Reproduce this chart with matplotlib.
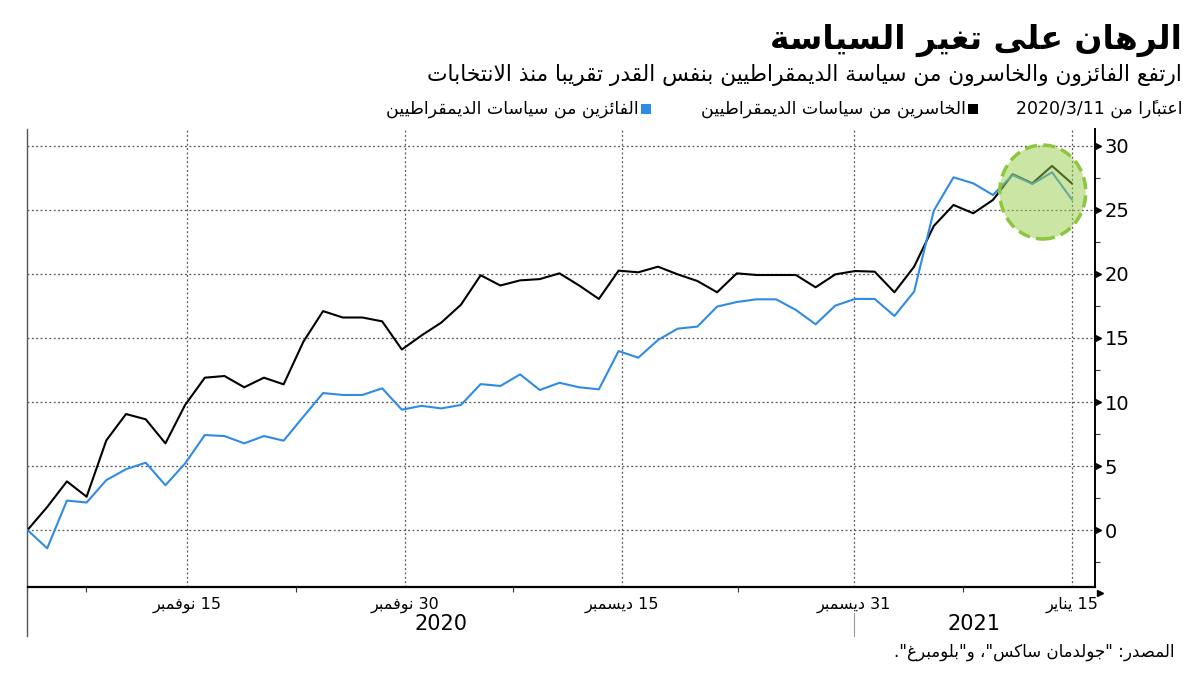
import re
import numpy as np
import pandas as pd
import matplotlib
matplotlib.use("Agg")
import matplotlib.pyplot as plt
import matplotlib.dates as mdates
import matplotlib.transforms as mtrans
from matplotlib.patches import Ellipse, Rectangle

plt.rcParams["font.family"] = ["DejaVu Sans"]

# ---- data (% change since 2020/3/11) ----
losers = [0.0, 1.8, 3.8, 2.6, 7.0, 9.06, 8.65, 6.77, 9.77, 11.9,
          12.03, 11.15, 11.9, 11.38, 14.7, 17.1, 16.6, 16.6, 16.3, 14.1,
          15.2, 16.2, 17.6, 19.9, 19.1, 19.5, 19.6, 20.05, 19.1, 18.05,
          20.26, 20.13, 20.57, 19.97, 19.45, 18.57, 20.05, 19.92, 19.92, 19.92,
          18.96, 19.97, 20.23, 20.18, 18.57, 20.57, 23.75, 25.39, 24.74, 25.78,
          27.79, 27.08, 28.44, 27.08]
winners = [0.0, -1.43, 2.3, 2.15, 3.9, 4.75, 5.26, 3.5, 5.2, 7.42,
           7.34, 6.77, 7.34, 6.98, 8.85, 10.7, 10.55, 10.55, 11.07, 9.4,
           9.7, 9.5, 9.77, 11.4, 11.25, 12.16, 10.94, 11.5, 11.15, 10.99,
           13.98, 13.46, 14.84, 15.73, 15.89, 17.45, 17.81, 18.02, 18.02, 17.19,
           16.07, 17.53, 18.05, 18.05, 16.72, 18.62, 24.95, 27.55, 27.08, 26.17,
           27.73, 27.03, 27.94, 25.83]
dates = pd.date_range("2020-11-04", "2021-01-15", periods=len(losers))

tick_dates = pd.to_datetime(["2020-11-15", "2020-11-30", "2020-12-15",
                             "2020-12-31", "2021-01-15"])
tick_labels = ["15 نوفمبر", "30 نوفمبر", "15 ديسمبر", "31 ديسمبر", "15 يناير"]
minor_dates = pd.to_datetime(["2020-11-08 00:00", "2020-11-22 12:00", "2020-12-07 12:00",
                              "2020-12-23 00:00", "2021-01-07 12:00"])

TITLE = "الرهان على تغير السياسة"
SUBTITLE = "ارتفع الفائزون والخاسرون من سياسة الديمقراطيين بنفس القدر تقريبا منذ الانتخابات"
BASE = "اعتبارًا من 2020/3/11"
LAB_LOSERS = "الخاسرين من سياسات الديمقراطيين"
LAB_WINNERS = "الفائزين من سياسات الديمقراطيين"
SOURCE = 'المصدر: "جولدمان ساكس"، و"بلومبرغ".'

BLUE = "#2E8BE6"
BLACK = "#000000"

# ---- minimal arabic shaping + rtl ordering (matplotlib does neither) ----
_LETTERS = "ءآأؤإئابةتثجحخدذرزسشصضطظعغفقكلمنهوىي"
_NFORMS = [1, 2, 2, 2, 2, 4, 2, 4, 2, 4, 4, 4, 4, 4, 2, 2, 2, 2,
           4, 4, 4, 4, 4, 4, 4, 4, 4, 4, 4, 4, 4, 4, 4, 2, 2, 4]
FORMS = {}
_c = 0xFE80
for _ch, _n in zip(_LETTERS, _NFORMS):
    FORMS[_ch] = [chr(_c + i) for i in range(_n)]
    _c += _n
LAM_ALEF = {"آ": ("\uFEF5", "\uFEF6"), "أ": ("\uFEF7", "\uFEF8"),
            "إ": ("\uFEF9", "\uFEFA"), "ا": ("\uFEFB", "\uFEFC")}


def _mark(ch):
    return "\u064B" <= ch <= "\u0652" or ch == "\u0670"


def shape(s):
    n = len(s)
    out = []

    def prev_joins(k):
        j = k - 1
        while j >= 0 and _mark(s[j]):
            j -= 1
        return j >= 0 and s[j] in FORMS and len(FORMS[s[j]]) == 4

    def next_letter(k):
        j = k + 1
        while j < n and _mark(s[j]):
            j += 1
        return j if j < n and s[j] in FORMS and len(FORMS[s[j]]) > 1 else None

    i = 0
    while i < n:
        ch = s[i]
        if ch not in FORMS:
            out.append(ch)
            i += 1
            continue
        p = prev_joins(i)
        j = next_letter(i)
        if ch == "ل" and j is not None and s[j] in LAM_ALEF:
            out.append(LAM_ALEF[s[j]][1 if p else 0])
            out.extend(s[i + 1:j])
            i = j + 1
            continue
        f = FORMS[ch]
        nx = j is not None and len(f) == 4
        if p and nx:
            out.append(f[3])
        elif p:
            out.append(f[1])
        elif nx:
            out.append(f[2])
        else:
            out.append(f[0])
        i += 1
    return "".join(out)


def _rev(s):
    cl = []
    for ch in s:
        if _mark(ch) and cl:
            cl[-1] += ch
        else:
            cl.append(ch)
    return "".join(reversed(cl))


def ar(s):
    runs = re.split(r"([0-9A-Za-z]+(?:[/.:,][0-9]+)*)", shape(s))
    runs = [_rev(r) if k % 2 == 0 else r for k, r in enumerate(runs)]
    return "".join(reversed(runs))


# ---- figure ----
W, H = 1200, 675
fig = plt.figure(figsize=(12, 6.75), dpi=100)


def P(x, y):
    return x / W, 1 - y / H


L, R, T, B = 27.5, 1094.5, 129.3, 586.5
ax = fig.add_axes([L / W, 1 - B / H, (R - L) / W, (B - T) / H])

ax.plot(dates, losers, color=BLACK, lw=1.5, zorder=3)
ax.plot(dates, winners, color=BLUE, lw=1.5, zorder=3)

ax.set_xlim(pd.Timestamp("2020-11-04"), pd.Timestamp("2021-01-16 13:40"))
ax.set_ylim(-4.41, 31.3)

# highlight
cx = mdates.date2num(pd.Timestamp("2021-01-13"))
ax.add_patch(Ellipse((cx, 26.4), width=5.93, height=7.34,
                     facecolor=(0.60, 0.80, 0.29, 0.5), edgecolor="#8DC63F",
                     lw=2.5, ls=(0, (3.5, 1.8)), zorder=4))

for s in ["top", "left"]:
    ax.spines[s].set_visible(False)
ax.spines["bottom"].set_linewidth(1.6)
ax.spines["right"].set_linewidth(1.4)

ax.yaxis.tick_right()
ax.set_yticks(range(0, 31, 5))
ax.set_yticks(np.arange(-2.5, 30, 5), minor=True)
ax.tick_params(axis="y", which="major", length=0, pad=7.5, labelsize=14)
ax.tick_params(axis="y", which="minor", right=True, length=3.5, width=0.8, color="#333333")
ax.plot([1.0035] * 7, range(0, 31, 5), ls="none", marker=">", ms=4.5, color="black",
        transform=ax.get_yaxis_transform(), clip_on=False)

ax.set_xticks(tick_dates)
ax.set_xticklabels([ar(t) for t in tick_labels])
ax.set_xticks(minor_dates, minor=True)
ax.tick_params(axis="x", which="major", length=0, pad=7, labelsize=11.5)
ax.tick_params(axis="x", which="minor", length=3.5, width=0.8, color="#333333")

ax.grid(axis="y", which="major", ls=(0, (1.5, 2)), color="#555555", lw=0.9)
ax.grid(axis="x", which="major", ls=(0, (1.5, 2)), color="#555555", lw=0.9)

# left rule running down past the axis, year separator and arrow
ax.plot([0, 0], [1, -0.108], transform=ax.transAxes, clip_on=False, color="#555555", lw=1)
bt = mtrans.blended_transform_factory(ax.transData, ax.transAxes)
ax.plot([tick_dates[3]] * 2, [-0.058, -0.108], transform=bt, clip_on=False,
        color="#999999", lw=0.8)
ax.plot([1.0052], [-0.0136], transform=ax.transAxes, marker=">", ms=4.5,
        color="black", clip_on=False)

fig.text(*P(441, 624), "2020", fontsize=15, ha="center", va="center")
fig.text(*P(974, 624), "2021", fontsize=15, ha="center", va="center")

# header
rend = fig.canvas.get_renderer()


def fit(t, width):
    w = t.get_window_extent(rend).width
    t.set_fontsize(t.get_fontsize() * width / w)


t1 = fig.text(*P(1182, 40), ar(TITLE), fontsize=24, fontweight="bold", ha="right", va="center")
fit(t1, 412)
t2 = fig.text(*P(1182, 75), ar(SUBTITLE), fontsize=14, ha="right", va="center")
fit(t2, 767)

fig.text(*P(1182, 109), ar(BASE), fontsize=12.5, ha="right", va="center")
for xr, col, lab in [(966, BLACK, LAB_LOSERS), (639, BLUE, LAB_WINNERS)]:
    fig.add_artist(Rectangle(P(xr + 2, 114), 10 / W, 10 / H, transform=fig.transFigure,
                             facecolor=col, edgecolor="none"))
    fig.text(*P(xr, 109), ar(lab), fontsize=12.5, ha="right", va="center")

fig.text(*P(1175, 652), ar(SOURCE), fontsize=12, ha="right", va="center")

fig.savefig("out.png", dpi=100, facecolor="white")
